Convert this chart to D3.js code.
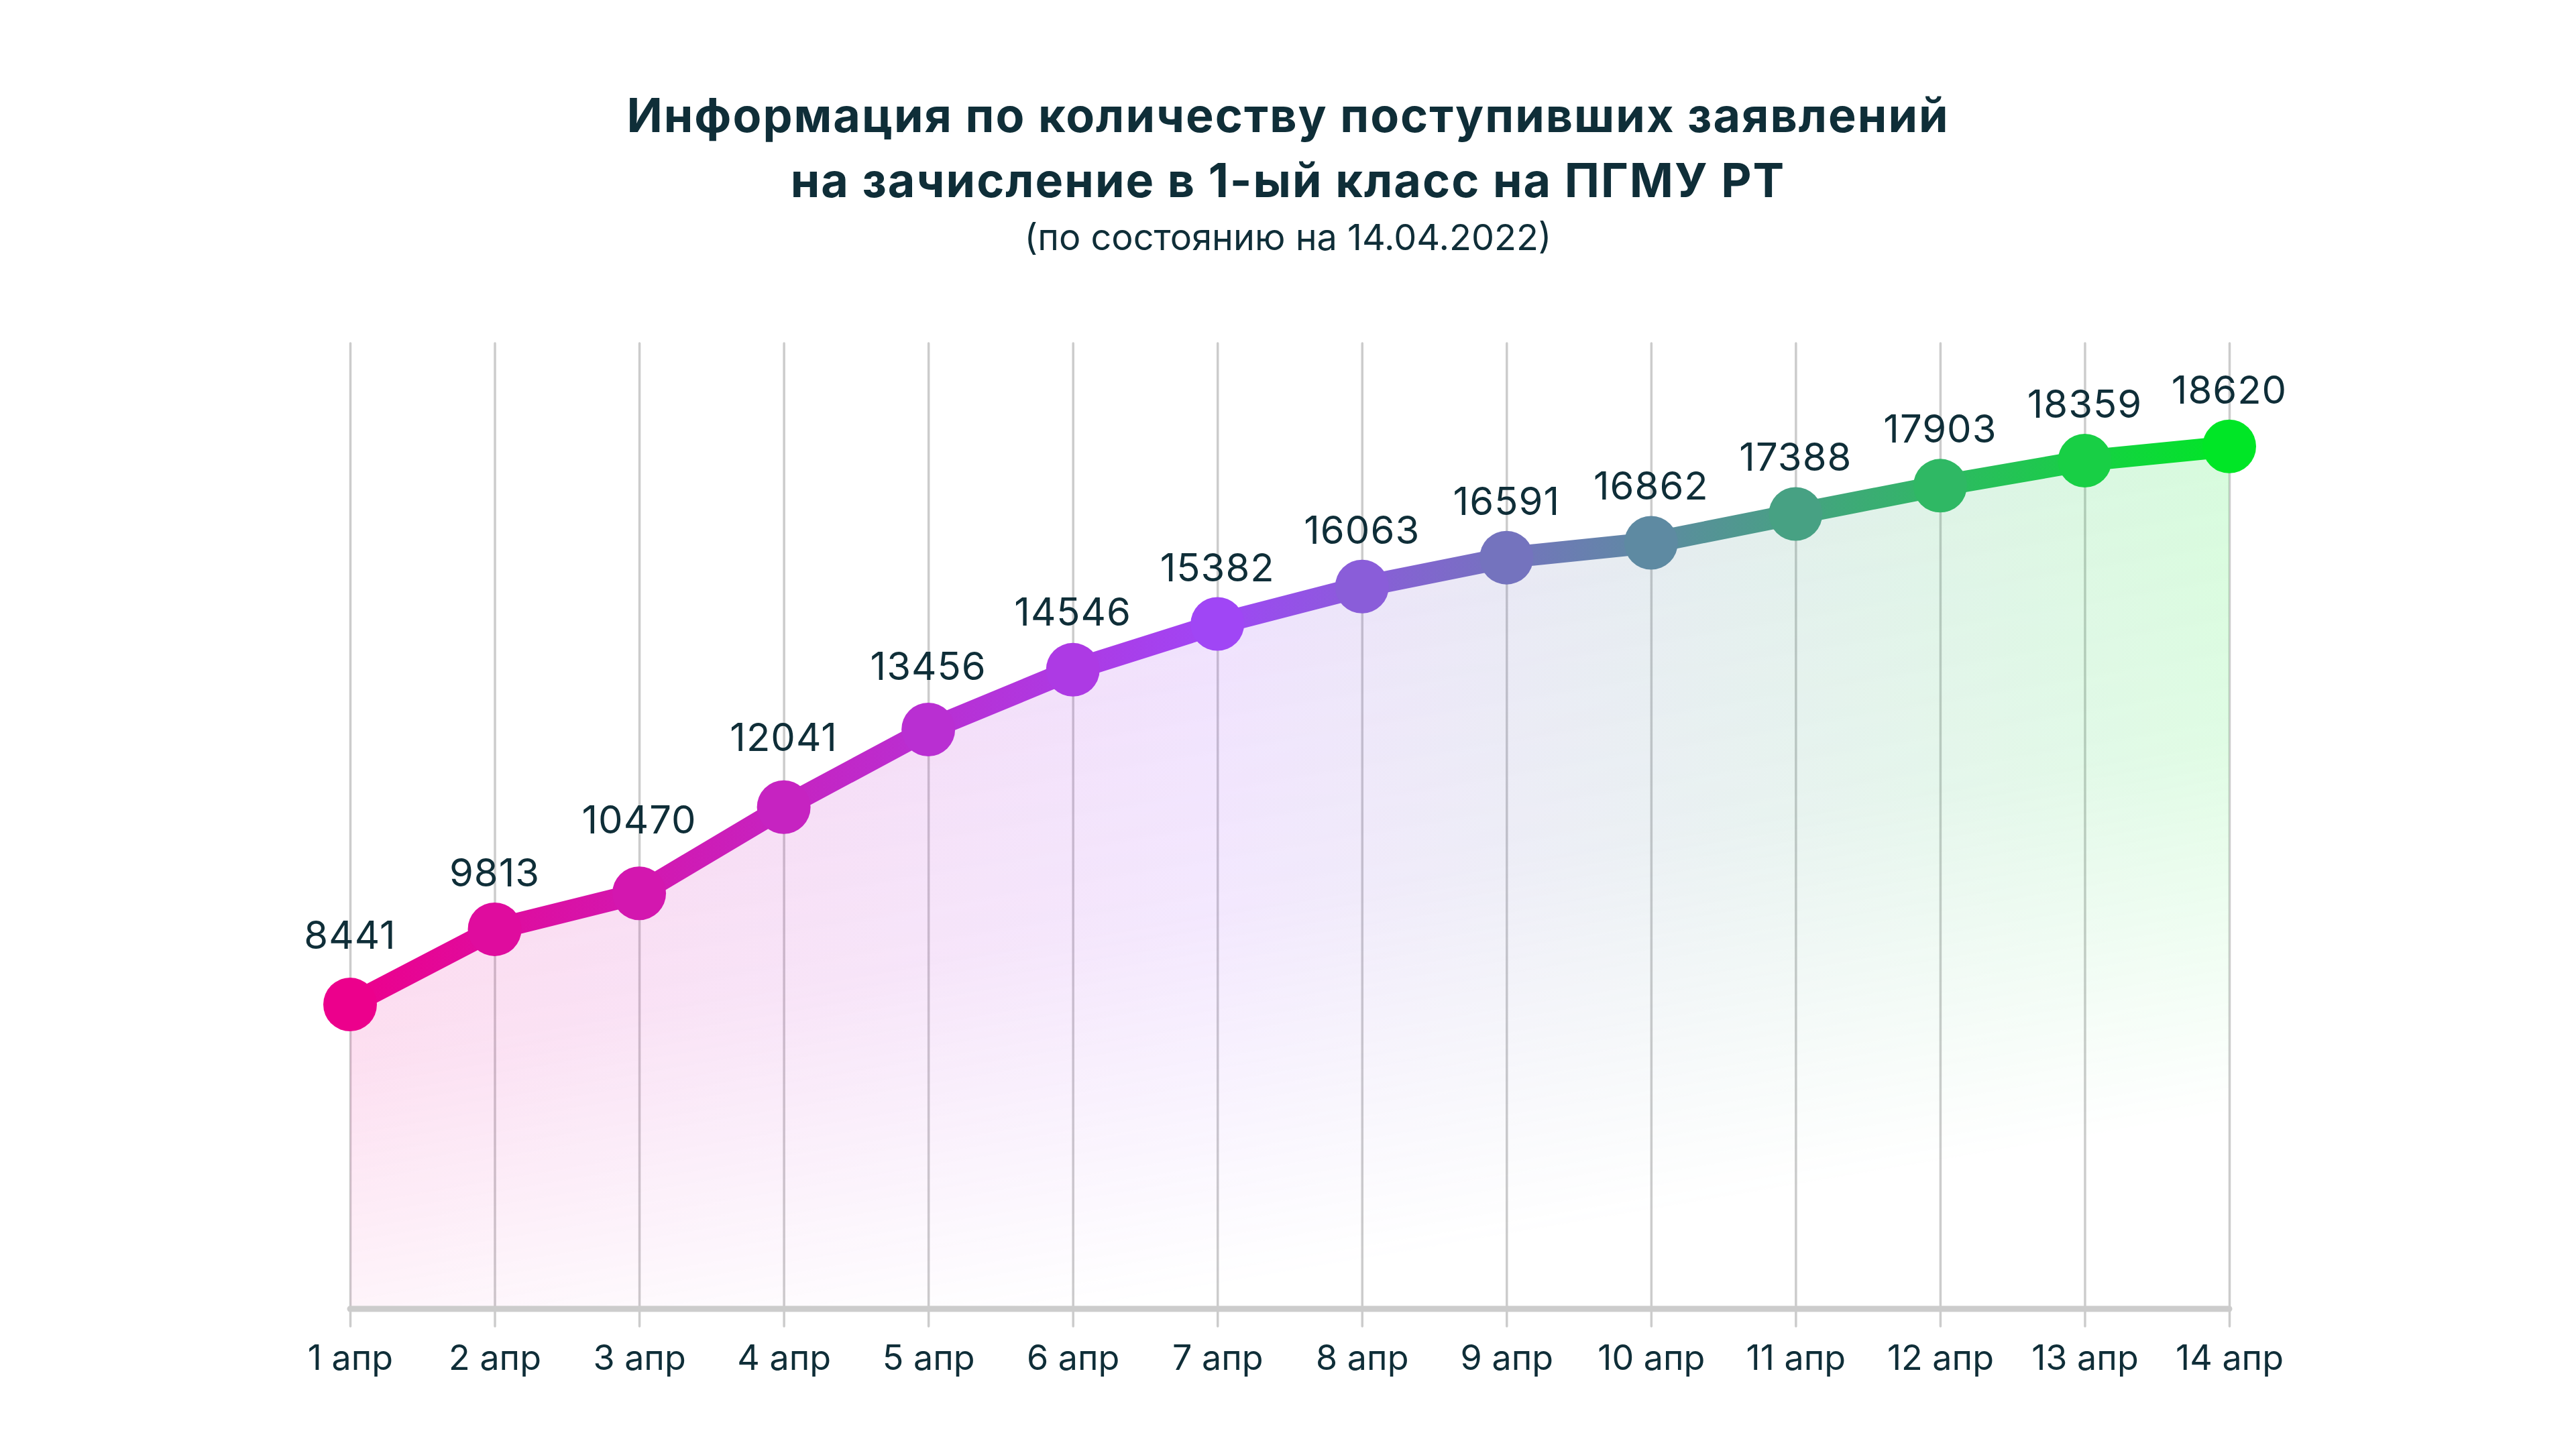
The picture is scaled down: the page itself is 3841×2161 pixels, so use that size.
<!DOCTYPE html>
<html>
<head>
<meta charset="utf-8">
<script src="https://cdn.jsdelivr.net/npm/d3@7"></script>
<style>
  html, body { margin: 0; padding: 0; background: #ffffff; }
  svg { display: block; }
</style>
</head>
<body>
<script>
// ---- data ----
const categories = ["1 апр", "2 апр", "3 апр", "4 апр", "5 апр", "6 апр", "7 апр",
                    "8 апр", "9 апр", "10 апр", "11 апр", "12 апр", "13 апр", "14 апр"];
const values = [8441, 9813, 10470, 12041, 13456, 14546, 15382, 16063, 16591, 16862, 17388, 17903, 18359, 18620];
const titleLines = ["Информация по количеству поступивших заявлений",
                    "на зачисление в 1-ый класс на ПГМУ РТ"];
const subtitle = "(по состоянию на 14.04.2022)";

// ---- layout / style ----
const W = 3841, H = 2161;
const textColor = "#0f2e38";
const gridColor = "#cccccc";
const fontFamily = "Inter, 'Noto Sans', sans-serif";
const colorStops = [0, 6, 9, 13];                       // category indices
const colorValues = ["#ec008c", "#a046f5", "#5e8aa2", "#00e626"];

const svg = d3.select("body").append("svg")
  .attr("width", W).attr("height", H)
  .attr("viewBox", `0 0 ${W} ${H}`);

svg.append("rect").attr("width", W).attr("height", H).attr("fill", "#fff");

const x = d3.scalePoint().domain(categories).range([522, 3324]);
const y = d3.scaleLinear().domain([2890, 20500]).range([1952, 512]);
const y0 = y.range()[0], yTop = y.range()[1];

const colorScale = d3.scaleLinear()
  .domain(colorStops)
  .range(colorValues)
  .interpolate(d3.interpolateRgb);

const data = categories.map((c, i) => ({ c, v: values[i], i }));

// ---- defs ----
const defs = svg.append("defs");
const xFirst = x(categories[0]), xLast = x(categories[categories.length - 1]);
const n = categories.length - 1;

const lineGrad = defs.append("linearGradient")
  .attr("id", "lineGrad").attr("gradientUnits", "userSpaceOnUse")
  .attr("x1", xFirst).attr("y1", 0).attr("x2", xLast).attr("y2", 0);
colorStops.forEach((s, k) => {
  lineGrad.append("stop").attr("offset", s / n).attr("stop-color", colorValues[k]);
});

const areaGrad = defs.append("linearGradient")
  .attr("id", "areaGrad").attr("gradientUnits", "userSpaceOnUse")
  .attr("x1", xFirst).attr("y1", 0).attr("x2", xLast).attr("y2", 0);
colorStops.forEach((s, k) => {
  areaGrad.append("stop").attr("offset", s / n).attr("stop-color", colorValues[k]);
});

// fade mask: diagonal, opaque at top, transparent toward bottom-right
const dir = [0.168, 0.986];
const sStart = 1180, sEnd = 2200;
const fadeGrad = defs.append("linearGradient")
  .attr("id", "fadeGrad").attr("gradientUnits", "userSpaceOnUse")
  .attr("x1", dir[0] * sStart).attr("y1", dir[1] * sStart)
  .attr("x2", dir[0] * sEnd).attr("y2", dir[1] * sEnd);
fadeGrad.append("stop").attr("offset", 0).attr("stop-color", "#fff");
fadeGrad.append("stop").attr("offset", 0.45).attr("stop-color", "#c8c8c8");
fadeGrad.append("stop").attr("offset", 1).attr("stop-color", "#000");

const mask = defs.append("mask").attr("id", "fadeMask")
  .attr("maskUnits", "userSpaceOnUse")
  .attr("x", 0).attr("y", 0).attr("width", W).attr("height", H);
mask.append("rect").attr("width", W).attr("height", H).attr("fill", "url(#fadeGrad)");

// ---- title ----
const title = svg.append("g").attr("font-family", fontFamily).attr("fill", textColor)
  .attr("text-anchor", "middle");
title.append("text").attr("x", W / 2).attr("y", 197)
  .attr("font-size", 70).attr("font-weight", 700).attr("letter-spacing", 2)
  .text(titleLines[0]);
title.append("text").attr("x", W / 2).attr("y", 294)
  .attr("font-size", 70).attr("font-weight", 700).attr("letter-spacing", 2)
  .text(titleLines[1]);
title.append("text").attr("x", W / 2).attr("y", 373)
  .attr("font-size", 54).attr("font-weight", 400).text(subtitle);

// ---- x axis with grid lines ----
const axis = d3.axisBottom(x).tickSize(26).tickPadding(28);
const gx = svg.append("g").attr("transform", `translate(0,${y0})`).call(axis);
gx.select(".domain").remove();
gx.selectAll(".tick line")
  .attr("y1", yTop - y0).attr("y2", 26)
  .attr("stroke", gridColor).attr("stroke-width", 3.5).attr("stroke-linecap", "round");
gx.selectAll(".tick text")
  .attr("fill", textColor).attr("font-size", 52).attr("font-family", fontFamily);

// ---- area ----
const area = d3.area().x(d => x(d.c)).y0(y0).y1(d => y(d.v));
svg.append("path").datum(data)
  .attr("d", area)
  .attr("fill", "url(#areaGrad)")
  .attr("fill-opacity", 0.16)
  .attr("mask", "url(#fadeMask)");

// ---- baseline ----
svg.append("line")
  .attr("x1", xFirst).attr("x2", xLast).attr("y1", y0).attr("y2", y0)
  .attr("stroke", gridColor).attr("stroke-width", 9).attr("stroke-linecap", "round");

// ---- line ----
const line = d3.line().x(d => x(d.c)).y(d => y(d.v));
svg.append("path").datum(data)
  .attr("d", line)
  .attr("fill", "none")
  .attr("stroke", "url(#lineGrad)")
  .attr("stroke-width", 32)
  .attr("stroke-linejoin", "round");

// ---- dots ----
svg.append("g").selectAll("circle").data(data).join("circle")
  .attr("cx", d => x(d.c)).attr("cy", d => y(d.v)).attr("r", 40)
  .attr("fill", d => colorScale(d.i));

// ---- value labels (lifted higher where the line climbs steeply) ----
svg.append("g").attr("font-family", fontFamily).attr("fill", textColor)
  .attr("text-anchor", "middle").attr("font-size", 58).attr("letter-spacing", 1)
  .selectAll("text").data(data).join("text")
  .attr("x", d => x(d.c))
  .attr("y", (d, i) => {
    const next = i < data.length - 1 ? y(d.v) - y(data[i + 1].v) : 0;
    return y(d.v) - Math.max(64, 40 + 0.38 * next);
  })
  .text(d => d.v);
</script>
</body>
</html>
